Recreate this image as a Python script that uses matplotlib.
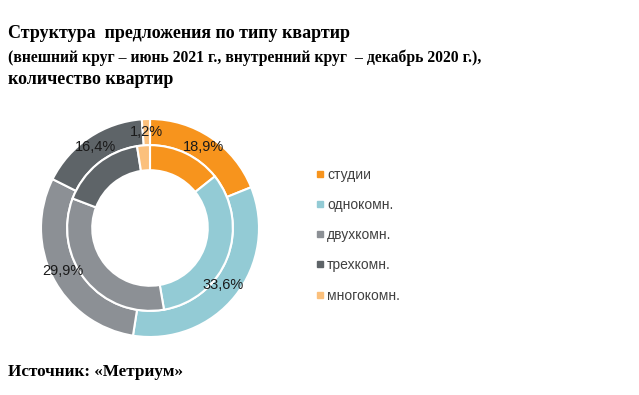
import matplotlib
matplotlib.use("Agg")
import matplotlib.pyplot as plt
from matplotlib.lines import Line2D

categories = ["студии", "однокомн.", "двухкомн.", "трехкомн.", "многокомн."]
outer_jun2021 = [18.9, 33.6, 29.9, 16.4, 1.2]
inner_dec2020 = [14.3, 33.0, 33.5, 16.7, 2.5]
outer_labels = ["18,9%", "33,6%", "29,9%", "16,4%", "1,2%"]
colors = ["#F7941D", "#93CBD5", "#8C9095", "#5E6468", "#FBC07C"]

title_lines = ["Структура  предложения по типу квартир",
               "(внешний круг – июнь 2021 г., внутренний круг  – декабрь 2020 г.),",
               "количество квартир"]
source = "Источник: «Метриум»"

W, H = 639, 395
fig = plt.figure(figsize=(W / 100, H / 100), dpi=100)

# pie axes placed in pixel terms: centre (150, 228), radius 109
cx, cy, R = 150, 228, 109
ax = fig.add_axes([(cx - R) / W, (H - cy - R) / H, 2 * R / W, 2 * R / H])
ax.set_aspect("equal")
ax.axis("off")

wp = dict(edgecolor="white", linewidth=1.5)
ax.pie(outer_jun2021, radius=1.0, colors=colors, startangle=90, counterclock=False,
       wedgeprops=dict(width=0.24, **wp))
ax.pie(inner_dec2020, radius=0.76, colors=colors, startangle=90, counterclock=False,
       wedgeprops=dict(width=0.23, **wp))
ax.set_xlim(-1, 1)
ax.set_ylim(-1, 1)

# label spots
label_pos = [(0.49, 0.74), (0.67, -0.52), (-0.80, -0.39), (-0.50, 0.74), (-0.03, 0.88)]
for txt, (x, y) in zip(outer_labels, label_pos):
    ax.text(x, y, txt, ha="center", va="center", fontsize=10.5,
            family="Liberation Sans", color="#1a1a1a")

handles = [Line2D([], [], marker="s", linestyle="none", markersize=5,
                  markerfacecolor=c, markeredgecolor=c) for c in colors]
fig.legend(handles, categories, loc="upper left", bbox_to_anchor=(304 / W, 1 - 155 / H),
           frameon=False, handlelength=0.5, handletextpad=0.25, labelspacing=1.17,
           prop=dict(family="Liberation Sans", size=10), labelcolor="#404040")

# the title in the source is squeezed on the long middle line
for txt, base, size in zip(title_lines, [38, 62, 84], [13, 11.3, 13]):
    fig.text(8 / W, 1 - base / H, txt, ha="left", va="baseline", fontsize=size,
             family="Liberation Serif", weight="bold")
fig.text(8 / W, 1 - 372 / H, source, ha="left", va="center", fontsize=12.3,
         family="Liberation Serif", weight="bold")

fig.savefig("out.png", dpi=100)
